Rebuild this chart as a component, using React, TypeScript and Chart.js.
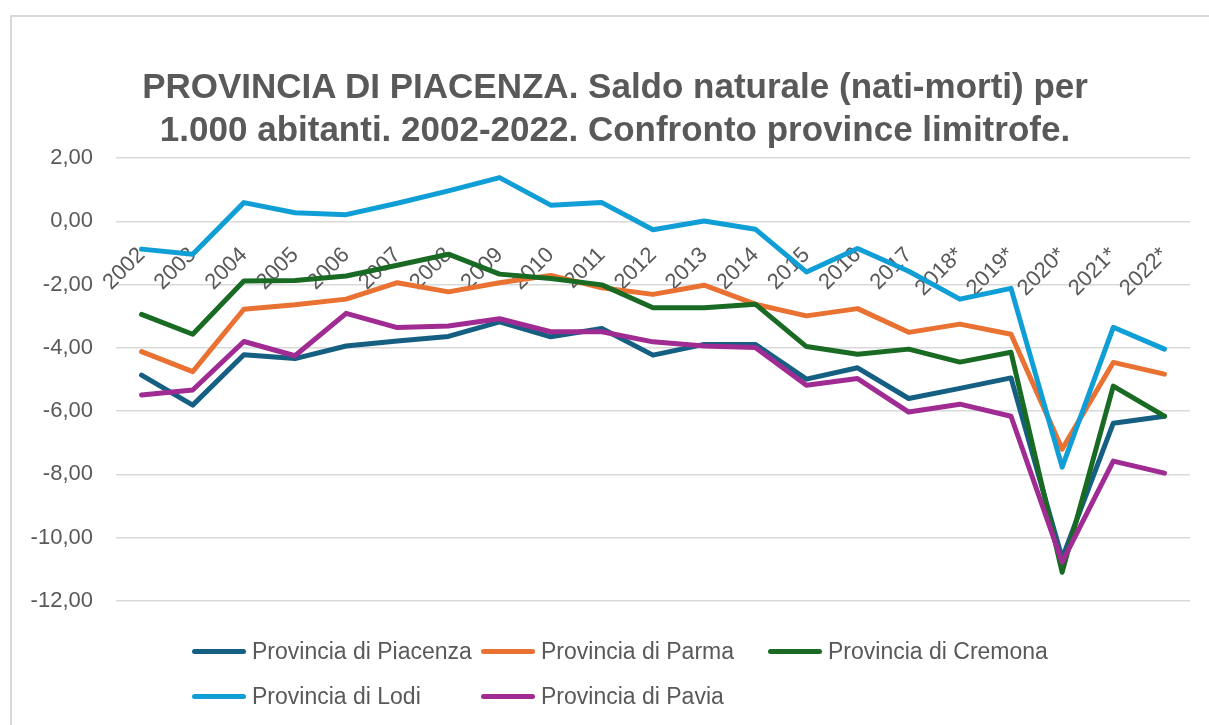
import React, { useEffect, useRef } from "react";
import { Chart, registerables } from "chart.js";

Chart.register(...registerables);

const years = [
  "2002", "2003", "2004", "2005", "2006", "2007", "2008", "2009", "2010", "2011",
  "2012", "2013", "2014", "2015", "2016", "2017", "2018*", "2019*", "2020*", "2021*", "2022*",
];

const piacenza = [-4.86, -5.81, -4.22, -4.34, -3.94, -3.78, -3.64, -3.18, -3.65, -3.39, -4.23, -3.89, -3.89, -4.99, -4.63, -5.6, -5.28, -4.95, -10.65, -6.38, -6.16];
const parma = [-4.12, -4.75, -2.78, -2.64, -2.46, -1.94, -2.23, -1.94, -1.71, -2.1, -2.31, -2.02, -2.62, -2.99, -2.76, -3.51, -3.25, -3.57, -7.2, -4.46, -4.83];
const cremona = [-2.94, -3.57, -1.89, -1.87, -1.73, -1.39, -1.04, -1.67, -1.81, -2.01, -2.73, -2.73, -2.62, -3.96, -4.2, -4.04, -4.45, -4.14, -11.09, -5.21, -6.16];
const lodi = [-0.88, -1.04, 0.59, 0.27, 0.21, 0.57, 0.96, 1.38, 0.51, 0.59, -0.27, 0.01, -0.25, -1.6, -0.86, -1.58, -2.46, -2.12, -7.77, -3.35, -4.04];
const pavia = [-5.49, -5.33, -3.8, -4.25, -2.91, -3.36, -3.31, -3.08, -3.49, -3.49, -3.81, -3.94, -3.99, -5.18, -4.97, -6.03, -5.78, -6.16, -10.77, -7.58, -7.96];

const seriesNames = [
  "Provincia di Piacenza",
  "Provincia di Parma",
  "Provincia di Cremona",
  "Provincia di Lodi",
  "Provincia di Pavia",
];
const seriesValues = [piacenza, parma, cremona, lodi, pavia];
const seriesColors = ["#156082", "#E97132", "#196B24", "#0F9ED5", "#A02B93"];

const titleLines = [
  "PROVINCIA DI PIACENZA. Saldo naturale (nati-morti) per",
  "1.000 abitanti. 2002-2022. Confronto province limitrofe.",
];

const yMin = -12;
const yMax = 2;
const yStep = 2;

const TEXT = "#595959";
const FONT = "'Liberation Sans', Arial, sans-serif";

// legend grid positions (relative to wrapper)
const legendPos = [
  { left: 184, top: 643 },
  { left: 473, top: 643 },
  { left: 760, top: 643 },
  { left: 184, top: 688 },
  { left: 473, top: 688 },
];

export default function App() {
  const ref = useRef<HTMLCanvasElement | null>(null);

  useEffect(() => {
    if (!ref.current) return;
    const chart = new Chart(ref.current, {
      type: "line",
      data: {
        labels: years,
        datasets: seriesValues.map((vals, i) => ({
          label: seriesNames[i],
          data: vals,
          borderColor: seriesColors[i],
          backgroundColor: seriesColors[i],
          borderWidth: 5,
          pointRadius: 0,
          pointHoverRadius: 0,
          tension: 0,
          borderJoinStyle: "round" as const,
          borderCapStyle: "round" as const,
          order: seriesValues.length - i,
        })),
      },
      options: {
        animation: false,
        responsive: false,
        layout: { padding: { left: 0, right: 19, top: 150, bottom: 116 } },
        plugins: {
          legend: { display: false },
          tooltip: { enabled: false },
          title: { display: false },
        },
        scales: {
          x: {
            type: "category",
            position: { y: 0 } as any,
            offset: true,
            grid: { display: false },
            border: { display: false },
            afterFit: (scale: any) => {
              scale.paddingLeft = 0;
              scale.paddingRight = 0;
            },
            ticks: {
              autoSkip: false,
              maxRotation: 45,
              minRotation: 45,
              color: TEXT,
              padding: 13,
              font: { family: FONT, size: 22 },
            },
          },
          y: {
            min: yMin,
            max: yMax,
            afterFit: (scale: any) => {
              scale.width = 108;
            },
            grid: { color: "#d9d9d9", lineWidth: 1.5, drawTicks: false },
            border: { display: false },
            ticks: {
              stepSize: yStep,
              color: TEXT,
              padding: 23,
              font: { family: FONT, size: 22 },
              callback: (v: any) => Number(v).toFixed(2).replace(".", ","),
            },
          },
        },
      },
    });
    return () => chart.destroy();
  }, []);

  return (
    <div style={{ position: "relative", width: 1201, height: 709 }}>
      <div
        style={{
          position: "fixed",
          left: 10,
          top: 15,
          right: 0,
          bottom: 0,
          borderLeft: "2px solid #d9d9d9",
          borderTop: "2px solid #d9d9d9",
          pointerEvents: "none",
        }}
      />
      <canvas
        ref={ref}
        width={1201}
        height={709}
        style={{ position: "absolute", left: 0, top: 0, display: "block" }}
      />
      <div
        style={{
          position: "absolute",
          left: 20,
          width: 1174,
          top: 56,
          textAlign: "center",
          fontFamily: FONT,
          fontWeight: "bold",
          fontSize: 35,
          lineHeight: "43px",
          color: TEXT,
          whiteSpace: "nowrap",
        }}
      >
        {titleLines.map((t) => (
          <div key={t}>{t}</div>
        ))}
      </div>
      {seriesNames.map((name, i) => (
        <div
          key={name}
          style={{
            position: "absolute",
            left: legendPos[i].left,
            top: legendPos[i].top - 14,
            height: 28,
            display: "flex",
            alignItems: "center",
            whiteSpace: "nowrap",
            fontFamily: FONT,
            fontSize: 23,
            color: TEXT,
          }}
        >
          <span
            style={{
              display: "inline-block",
              width: 54,
              height: 5,
              borderRadius: 3,
              background: seriesColors[i],
              marginRight: 6,
            }}
          />
          <span>{name}</span>
        </div>
      ))}
    </div>
  );
}
